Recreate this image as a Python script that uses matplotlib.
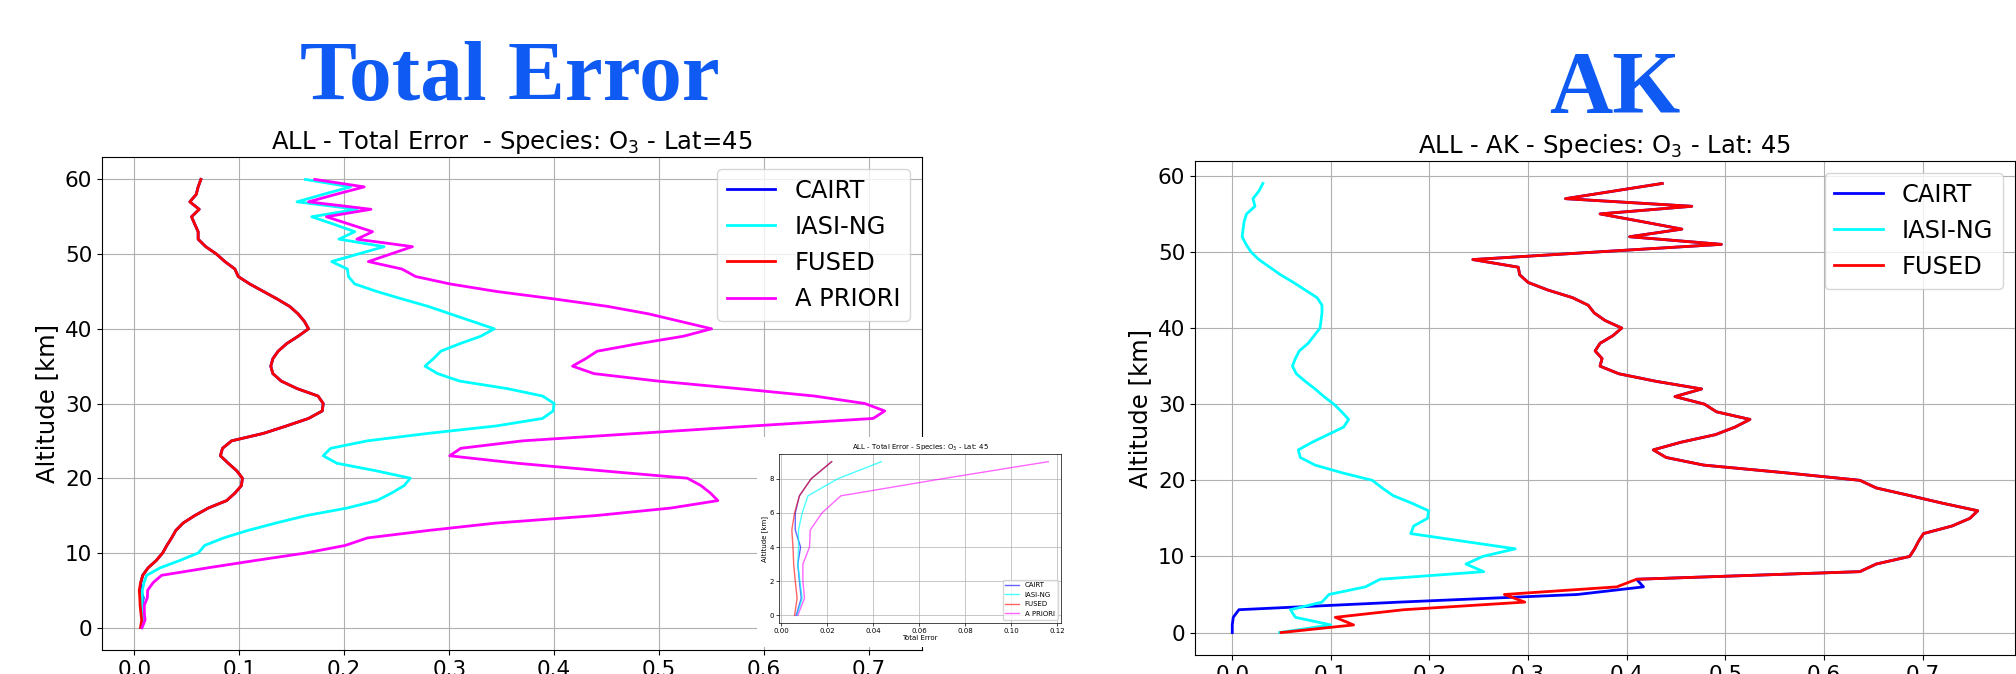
import numpy as np
import matplotlib.pyplot as plt
from matplotlib.patches import Rectangle

# altitude grids [km]
alt_te = list(range(0, 61))
alt_ak = list(range(0, 60))
alt_zoom = list(range(0, 10))

# ---- Total Error (0..60 km) ----
fused_te = [0.0059, 0.0070, 0.0062, 0.0055, 0.0052, 0.0047, 0.0059, 0.0080, 0.0131, 0.021,
            0.027, 0.031, 0.0355, 0.0395, 0.0465, 0.0576, 0.0704, 0.0879, 0.0958, 0.102,
            0.103, 0.0975, 0.0895, 0.082, 0.084, 0.0927, 0.123, 0.145, 0.166, 0.179,
            0.180, 0.175, 0.155, 0.140, 0.132, 0.130, 0.132, 0.137, 0.145, 0.156,
            0.166, 0.162, 0.156, 0.148, 0.136, 0.123, 0.110, 0.099, 0.0958, 0.0863,
            0.0783, 0.068, 0.0608, 0.0608, 0.0576, 0.0545, 0.0618, 0.0529, 0.059, 0.0608,
            0.0634]
cairt_te = [0.0066, 0.0088, 0.0080, 0.0073, 0.0085, 0.0062, 0.0062, 0.0080] + fused_te[8:]
iasi_te = [0.0070, 0.0092, 0.0082, 0.0073, 0.0076, 0.0076, 0.0092, 0.0117, 0.0246, 0.0436,
           0.061, 0.067, 0.085, 0.108, 0.135, 0.164, 0.2025, 0.231, 0.245, 0.257,
           0.263, 0.230, 0.193, 0.180, 0.187, 0.222, 0.280, 0.345, 0.389, 0.399,
           0.400, 0.389, 0.355, 0.310, 0.289, 0.277, 0.285, 0.292, 0.310, 0.330,
           0.343, 0.322, 0.301, 0.280, 0.255, 0.231, 0.210, 0.204, 0.203, 0.188,
           0.213, 0.238, 0.195, 0.210, 0.190, 0.169, 0.212, 0.155, 0.180, 0.206,
           0.163]
apriori_te = [0.0073, 0.0102, 0.0095, 0.0095, 0.0124, 0.0127, 0.0178, 0.026, 0.070, 0.116,
              0.164, 0.201, 0.222, 0.280, 0.345, 0.440, 0.511, 0.556, 0.549, 0.540,
              0.527, 0.445, 0.365, 0.3005, 0.311, 0.370, 0.480, 0.590, 0.704, 0.715,
              0.696, 0.648, 0.575, 0.499, 0.438, 0.4175, 0.430, 0.441, 0.480, 0.523,
              0.550, 0.520, 0.490, 0.451, 0.400, 0.345, 0.301, 0.268, 0.255, 0.223,
              0.244, 0.265, 0.212, 0.227, 0.205, 0.183, 0.2255, 0.166, 0.192, 0.219,
              0.172]

# ---- AK (0..59 km) ----
fused_ak = [0.0495, 0.123, 0.1045, 0.174, 0.2966, 0.276, 0.390, 0.410, 0.6365, 0.653,
            0.687, 0.692, 0.696, 0.701, 0.730, 0.748, 0.756, 0.720, 0.687, 0.653,
            0.6365, 0.560, 0.478, 0.440, 0.427, 0.455, 0.490, 0.510, 0.525, 0.491,
            0.479, 0.449, 0.476, 0.430, 0.392, 0.373, 0.375, 0.368, 0.373, 0.386,
            0.395, 0.378, 0.367, 0.361, 0.345, 0.320, 0.300, 0.2915, 0.290, 0.244,
            0.370, 0.496, 0.403, 0.456, 0.415, 0.373, 0.466, 0.338, 0.387, 0.436]
cairt_ak = [0.0, 0.0, 0.001, 0.0067, 0.170, 0.350, 0.417] + fused_ak[7:]
iasi_ak = [0.048, 0.100, 0.064, 0.059, 0.091, 0.098, 0.135, 0.150, 0.255, 0.237,
           0.254, 0.287, 0.234, 0.181, 0.184, 0.198, 0.199, 0.182, 0.163, 0.152,
           0.142, 0.111, 0.084, 0.069, 0.067, 0.081, 0.097, 0.113, 0.118, 0.111,
           0.103, 0.093, 0.084, 0.074, 0.065, 0.061, 0.064, 0.068, 0.077, 0.083,
           0.089, 0.090, 0.091, 0.091, 0.086, 0.074, 0.062, 0.049, 0.038, 0.027,
           0.019, 0.014, 0.010, 0.011, 0.012, 0.0145, 0.023, 0.021, 0.027, 0.031]

# ---- zoom on the lowest 10 km (total error) ----
cairt_zoom = [0.0066, 0.0088, 0.0080, 0.0073, 0.0085, 0.0062, 0.0062, 0.0080, 0.0131, 0.022]
iasi_zoom = [0.0070, 0.0092, 0.0082, 0.0073, 0.0076, 0.0076, 0.0092, 0.0117, 0.0246, 0.0436]
fused_zoom = [0.0059, 0.0070, 0.0062, 0.0055, 0.0052, 0.0047, 0.0059, 0.0080, 0.0131, 0.022]
apriori_zoom = [0.0073, 0.0102, 0.0095, 0.0095, 0.0124, 0.0127, 0.0178, 0.026, 0.070, 0.116]

W, H = 2016, 674
fig = plt.figure(figsize=(W / 100, H / 100), dpi=100)

TICK = 15.5
LAB = 17.5

# big headings
fig.text(510 / W, 1 - 100 / H, "Total Error", family="Liberation Serif", weight="bold",
         size=61.5, color="#0f5af2", ha="center", va="baseline")
fig.text(1615 / W, 1 - 112 / H, "AK", family="Liberation Serif", weight="bold",
         size=63, color="#0f5af2", ha="center", va="baseline")

# left panel: total error
ax1 = fig.add_axes([102 / W, (H - 650) / H, 820 / W, 493 / H])
ax1.plot(cairt_te, alt_te, color="blue", lw=2, label="CAIRT")
ax1.plot(iasi_te, alt_te, color="cyan", lw=2, label="IASI-NG")
ax1.plot(fused_te, alt_te, color="red", lw=2, label="FUSED")
ax1.plot(apriori_te, alt_te, color="magenta", lw=2, label="A PRIORI")
ax1.grid(True)
ax1.set_title("ALL - Total Error  - Species: O$_3$ - Lat=45", fontsize=LAB)
ax1.set_ylabel("Altitude [km]", fontsize=LAB)
ax1.tick_params(labelsize=TICK)
ax1.legend(loc="upper right", fontsize=17.4)

# white card behind the zoomed inset
fig.add_artist(Rectangle((757 / W, (H - 647) / H), 305 / W, 210 / H,
                         transform=fig.transFigure, facecolor="white",
                         edgecolor="none", zorder=2))

axz = fig.add_axes([779 / W, (H - 623) / H, 282 / W, 169 / H], zorder=3)
axz.plot(cairt_zoom, alt_zoom, color="blue", lw=1, alpha=0.6, label="CAIRT")
axz.plot(iasi_zoom, alt_zoom, color="cyan", lw=1, alpha=0.7, label="IASI-NG")
axz.plot(fused_zoom, alt_zoom, color="red", lw=1, alpha=0.6, label="FUSED")
axz.plot(apriori_zoom, alt_zoom, color="magenta", lw=1, alpha=0.6, label="A PRIORI")
axz.grid(True, lw=0.5)
axz.set_title("ALL - Total Error - Species: O$_3$ - Lat: 45", fontsize=5, pad=3)
axz.set_xlabel("Total Error", fontsize=5, labelpad=1)
axz.set_ylabel("Altitude [km]", fontsize=5, labelpad=1)
axz.tick_params(labelsize=5, length=2, pad=1.5, width=0.5)
for s in axz.spines.values():
    s.set_linewidth(0.5)
axz.legend(loc="lower right", fontsize=5)

# right panel: AK
ax2 = fig.add_axes([1195 / W, (H - 655) / H, 820 / W, 494 / H])
ax2.plot(cairt_ak, alt_ak, color="blue", lw=2, label="CAIRT")
ax2.plot(iasi_ak, alt_ak, color="cyan", lw=2, label="IASI-NG")
ax2.plot(fused_ak, alt_ak, color="red", lw=2, label="FUSED")
ax2.grid(True)
ax2.set_title("ALL - AK - Species: O$_3$ - Lat: 45", fontsize=LAB)
ax2.set_ylabel("Altitude [km]", fontsize=LAB)
ax2.tick_params(labelsize=TICK)
ax2.legend(loc="upper right", fontsize=17.4)

fig.savefig("out.png", dpi=100)
